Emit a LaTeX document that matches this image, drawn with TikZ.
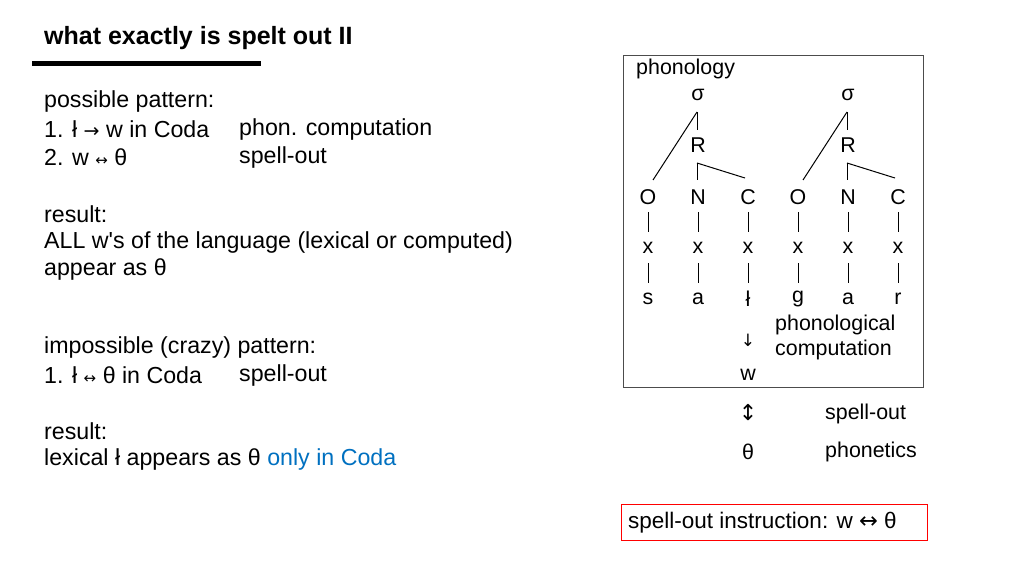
\documentclass[tikz,border=0pt]{standalone}
\usepackage{fontspec}
\setmainfont[Ligatures=TeXOff]{Liberation Sans}
\newfontfamily\dv{DejaVu Sans}
\definecolor{myblue}{RGB}{0,112,192}
\begin{document}
\begin{tikzpicture}[x=1pt,y=-1pt,
  txt/.style={anchor=west,inner sep=0pt,font=\fontsize{23.2}{26}\selectfont},
  tr/.style={inner sep=0pt,font=\fontsize{21.4}{24}\selectfont},
  ln/.style={line width=1pt}]
\useasboundingbox (0,0) rectangle (1024,576);
\node[txt,font=\bfseries\fontsize{25}{28}\selectfont] (title) at (44,38) {what exactly is spelt out II};
\fill (32,61) rectangle (261,66);
\node[txt] (l1) at (44,101) {possible pattern:};
\node[txt] (l2) at (44,129) {1. ł {\dv\fontsize{19}{20}\selectfont →} w in Coda};
\node[txt] (l2b) at (239,129) {phon. computation};
\node[txt] (l3) at (44,157) {2. w {\dv\fontsize{15}{16}\selectfont ↔} θ};
\node[txt] (l3b) at (239,157) {spell-out};
\node[txt] (l4) at (44,214) {result:};
\node[txt] (l5) at (44,242) {ALL w's of the language (lexical or computed)};
\node[txt] (l6) at (44,270) {appear as θ};
\node[txt] (l7) at (44,347) {impossible (crazy) pattern:};
\node[txt] (l8) at (44,375) {1. ł {\dv\fontsize{15}{16}\selectfont ↔} θ in Coda};
\node[txt] (l8b) at (239,375) {spell-out};
\node[txt] (l9) at (44,431) {result:};
\node[txt] (l10) at (44,459) {lexical ł appears as θ \textcolor{myblue}{only in Coda}};
% box
\draw[line width=0.8pt,black!70] (623,55) rectangle (923,387);
\node[tr,anchor=west] (ph) at (636,69) {phonology};
\foreach \s/\x in {a/698,b/848}{
  \node[tr] (sig\s) at (\x,95) {σ};
  \node[tr] (R\s) at (\x,145) {R};
  \coordinate (st\s) at (\x-1,112);
  \coordinate (rb\s) at (\x-1,130);
  \coordinate (rs\s) at (\x-1,163);
}
\foreach \n/\x/\c/\seg in {1/648/O/s,2/698/N/a,3/748/C/ł,4/798/O/g,5/848/N/a,6/898/C/r}{
  \node[tr] (c\n) at (\x,197) {\c};
  \node[tr] (x\n) at (\x,248) {x};
  \node[tr] (s\n) at (\x,299) {\seg};
  \coordinate (ct\n) at (\x-1,180);
  \coordinate (cw\n) at (\x-3,178);
  \draw[ln] (\x,212) -- (\x,232);
  \draw[ln] (\x,263) -- (\x,283);
}
\foreach \s/\o/\nn/\cc in {a/1/2/3,b/4/5/6}{
  \draw[ln] (st\s) -- ([xshift=6]ct\o);
  \draw[ln] (st\s) -- (rb\s);
  \draw[ln] (rs\s) -- (ct\nn);
  \draw[ln] (rs\s) -- (cw\cc);
}
\node[tr,anchor=west] (pc1) at (775,325) {phonological};
\node[tr,anchor=west] (pc2) at (775,350) {computation};
\node[tr,font=\dv\fontsize{17}{18}\selectfont] (down) at (748,340) {↓};
\node[tr] (w) at (748,375) {w};
\node[tr,font=\dv\fontsize{22}{24}\selectfont] (ud) at (748,413) {↕};
\node[tr,anchor=west] (so) at (825,414) {spell-out};
\node[tr] (th) at (748,452) {θ};
\node[tr,anchor=west] (pn) at (825,452) {phonetics};
\draw[red,line width=1pt] (621,504) rectangle (927,540);
\node[tr,anchor=west,font=\fontsize{22.5}{24}\selectfont] (instr) at (628,523) {spell-out instruction: w {\dv ↔} θ};
\end{tikzpicture}
\end{document}
